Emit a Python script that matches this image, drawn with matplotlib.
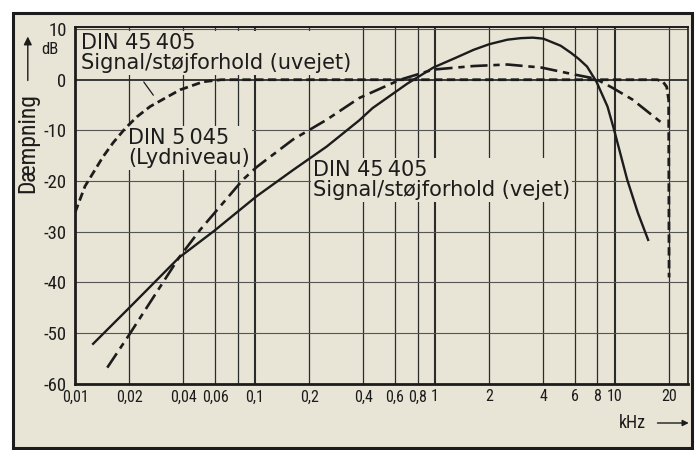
import matplotlib
matplotlib.use('Agg')
import matplotlib.pyplot as plt
from matplotlib import font_manager
from matplotlib.patches import Rectangle, FancyArrowPatch

# frequency (kHz) / attenuation (dB)
f_uvejet = [0.01, 0.01136, 0.0129, 0.0143, 0.0163, 0.019, 0.0221, 0.0261, 0.0325, 0.0383,
            0.0515, 0.065, 1, 10, 17.2, 18.5, 19.4, 19.9, 20.0]
db_uvejet = [-26.2, -21.0, -17.8, -15.2, -12.4, -9.6, -7.3, -5.3, -3.4, -2.0,
             -0.4, 0, 0, 0, 0, -0.4, -1.4, -4, -39]

f_lyd = [0.0151, 0.02, 0.0378, 0.0496, 0.0858, 0.1024, 0.1626, 0.25, 0.38, 0.64,
         0.98, 1.64, 2.53, 3.9, 6.0, 7.8, 9.7, 12.5, 17.9]
db_lyd = [-56.8, -50.3, -35.1, -29.6, -19.7, -17.2, -11.8, -7.9, -3.6, 0,
          2, 2.7, 3, 2.4, 1, 0.2, -1.6, -3.9, -8.3]

f_vejet = [0.0126, 0.02, 0.0378, 0.0594, 0.102, 0.163, 0.25, 0.38, 0.45, 0.70, 0.98,
           1.3, 1.64, 2.0, 2.53, 3.0, 3.5, 4.0, 5.0, 5.7, 6.3, 7.0, 7.9, 9.1, 9.9,
           11.7, 13.4, 15.3]
db_vejet = [-52.1, -45, -35.1, -29.8, -23, -17.8, -13.2, -8, -5.6, -0.8, 2.4,
            4.3, 5.9, 7.0, 7.9, 8.2, 8.3, 8.1, 6.7, 5.3, 4.1, 2.6, -0.4, -5.3, -9.9,
            -19.7, -26.2, -31.6]

x_ticks = [0.01, 0.02, 0.04, 0.06, 0.08, 0.1, 0.2, 0.4, 0.6, 0.8, 1, 2, 4, 6, 8, 10, 20]
x_labels = ['0,01', '0,02', '0,04', '0,06', '', '0,1', '0,2', '0,4', '0,6', '0,8', '1',
            '2', '4', '6', '8', '10', '20']
y_ticks = [-60, -50, -40, -30, -20, -10, 0, 10]
y_labels = ['-60', '-50', '-40', '-30', '-20', '-10', '0', '10']

bg = '#e8e4d6'
ink = '#1c1c1c'

names = {f.name for f in font_manager.fontManager.ttflist}
narrow = 'DejaVu Sans'
for cand in ['Roboto Condensed', 'Liberation Sans Narrow', 'DejaVu Sans Condensed']:
    if cand in names:
        narrow = cand
        break

fig = plt.figure(figsize=(6.95, 4.5), dpi=100)
fig.patch.set_facecolor('white')
# scanned page frame
fig.patches.append(Rectangle((0.018, 0.004), 0.978, 0.968, transform=fig.transFigure,
                             facecolor=bg, edgecolor=ink, linewidth=2.2, zorder=-5))

ax = fig.add_axes([0.108, 0.147, 0.882, 0.793])
ax.set_zorder(2)
ax.set_facecolor(bg)
ax.set_xscale('log')
ax.set_xlim(0.01, 25.5)
ax.set_ylim(-60, 10.4)

# grid
for x in x_ticks[1:]:
    lw = 1.5 if x in (0.1, 1, 10) else 0.9
    ax.axvline(x, color='#2b2b2b', lw=lw, zorder=1)
for y in y_ticks[1:-1]:
    ax.axhline(y, color='#555555' if y else '#2b2b2b', lw=0.8 if y else 1.3, zorder=1)
ax.axhline(10, color='#555555', lw=0.8, zorder=1)

ax.set_xticks(x_ticks)
ax.set_xticklabels(x_labels)
ax.minorticks_off()
ax.set_yticks(y_ticks)
ax.set_yticklabels(y_labels)
ax.tick_params(length=0, colors=ink, pad=4)
ax.tick_params(axis='x', labelsize=11.5)
ax.tick_params(axis='y', labelsize=13.5, pad=6)
for lab in ax.get_xticklabels() + ax.get_yticklabels():
    lab.set_family(narrow)

for side, lw in [('left', 2.0), ('bottom', 2.0), ('top', 1.4), ('right', 1.2)]:
    ax.spines[side].set_linewidth(lw)
    ax.spines[side].set_color(ink)

# curves
ax.plot(f_uvejet, db_uvejet, color=ink, lw=2.0, dashes=(3, 1.6), zorder=4)
ax.plot(f_lyd, db_lyd, color=ink, lw=1.9, dashes=(6.5, 2.2, 2.4, 2.2), zorder=4)
ax.plot(f_vejet, db_vejet, color=ink, lw=1.7, zorder=4)

box = dict(facecolor=bg, edgecolor='none', pad=1.5)
ax.text(0.0108, 9.2, 'DIN 45\u2009405\nSignal/støjforhold (uvejet)', fontsize=15,
        color=ink, va='top', ha='left', linespacing=1.0, bbox=box, zorder=3)
ax.text(0.0197, -9.6, 'DIN 5\u2009045\n(Lydniveau)', fontsize=15, color=ink,
        va='top', ha='left', linespacing=1.0, bbox=box, zorder=3)
ax.text(0.21, -15.8, 'DIN 45\u2009405\nSignal/støjforhold (vejet)', fontsize=15,
        color=ink, va='top', ha='left', linespacing=1.0, bbox=box, zorder=3)
ax.annotate('', xy=(0.0278, -3.5), xytext=(0.0236, 0),
            arrowprops=dict(arrowstyle='-', color=ink, lw=0.9), zorder=3)

# axis captions
fig.text(0.04, 0.682, 'Dæmpning', rotation=90, fontsize=17, color=ink,
         ha='center', va='center', family=narrow)
fig.add_artist(FancyArrowPatch((0.04, 0.815), (0.04, 0.925),
               transform=fig.transFigure, arrowstyle='-|>', mutation_scale=12,
               color=ink, lw=1.0))
fig.text(0.072, 0.889, 'dB', fontsize=12, color=ink, ha='center', va='center',
         family=narrow)
fig.text(0.93, 0.06, 'kHz', fontsize=13, color=ink, ha='right', va='center',
         family=narrow)
fig.add_artist(FancyArrowPatch((0.942, 0.06), (0.995, 0.06),
               transform=fig.transFigure, arrowstyle='-|>', mutation_scale=9,
               color=ink, lw=1.0))

fig.savefig('out.png', dpi=100, facecolor='white')
